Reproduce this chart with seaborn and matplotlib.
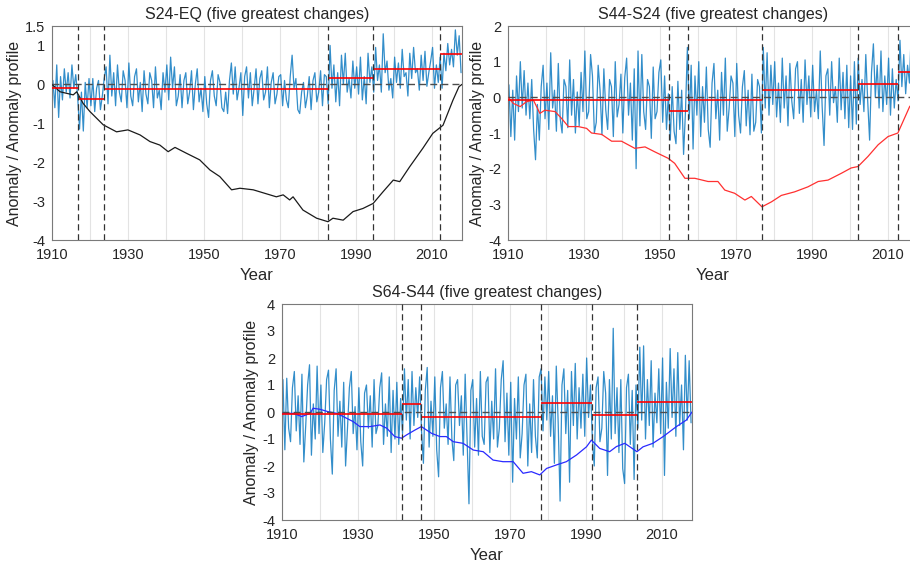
import numpy as np
import pandas as pd
import matplotlib
matplotlib.use("Agg")
import matplotlib.pyplot as plt
import seaborn as sns

# ---------------- data ----------------
titles = ["S24-EQ (five greatest changes)",
          "S44-S24 (five greatest changes)",
          "S64-S44 (five greatest changes)"]
x_ticklabel_years = [1910, 1930, 1950, 1970, 1990, 2010]

# semi-annual anomaly values, 1910..2017 (two per year)
anom_s24_eq = [
    0.1, -0.6, 0.5, -0.85, 0.2, -0.4, 0.4, -0.2, 0.3, -0.35,
    0.5, -0.1, 0.25, -0.3, -1.15, -0.2, -1.2, 0.05, -0.6, 0.15,
    -0.55, 0.15, -0.7, -0.1, 0.1, -0.65, -0.3, 0.15, 0.45, -0.5,
    0.75, -0.3, 0.3, -0.55, 0.5, -0.2, -0.45, 0.35, 0.1, -0.6,
    0.55, -0.3, -0.55, 0.2, 0.4, -0.45, 0.05, -0.7, 0.35, -0.25,
    -0.5, 0.3, 0.1, -0.6, 0.45, -0.35, -0.15, -0.65, 0.3, -0.2,
    0.5, -0.4, 0.7, -0.1, 0.45, -0.55, -0.3, 0.25, -0.6, 0.1,
    0.3, -0.5, -0.2, 0.35, -0.65, 0.0, 0.4, -0.45, -0.1, -0.7,
    0.2, -0.5, -0.85, 0.1, 0.35, -0.3, -0.55, 0.25, 0.05, -0.6,
    -0.7, -0.2, -0.75, 0.1, 0.55, -0.25, 0.45, -0.4, -0.1, 0.3,
    -0.8, 0.2, 0.45, -0.35, 0.3, -0.55, -0.1, 0.4, -0.5, 0.15,
    0.35, -0.4, -0.2, 0.45, -0.6, 0.05, 0.3, -0.5, -0.25, 0.2,
    0.25, -0.55, 0.1, -0.4, -0.6, 0.2, 0.75, -0.1, 0.15, -0.65,
    -0.75, -0.2, 0.05, -0.6, -0.3, 0.2, -0.65, 0.1, 0.3, -0.45,
    -0.2, 0.35, -0.55, 0.25, 0.2, -0.5, 1.0, -0.1, 0.5, -0.45,
    0.3, -0.55, 0.75, 0.0, 0.8, -0.2, 0.15, -0.35, 0.6, -0.1,
    0.45, -0.25, 0.7, -0.4, 0.2, -0.5, 0.8, 0.05, 0.45, -0.2,
    0.95, 0.1, 0.5, -0.2, 1.3, 0.3, 0.6, -0.15, 0.15, -0.35,
    0.7, 0.05, 0.55, -0.1, 0.9, 0.2, 0.3, -0.3, 0.8, 0.15,
    0.95, 0.3, 0.4, -0.15, 0.75, 0.1, 0.85, -0.05, 0.3, 0.6,
    0.95, -0.1, 0.5, 0.05, 0.7, -0.1, 0.8, 0.35, 1.05, 0.5,
    0.9, 0.45, 1.4, 0.75, 1.25, 0.3,
]
anom_s44_s24 = [
    0.35, -1.1, 0.2, -1.2, 0.6, -0.4, 1.0, -0.3, 0.75, -0.5,
    0.4, -0.6, 0.5, -0.9, -1.75, -0.2, -1.2, 0.3, 0.9, -0.6,
    0.4, -0.9, 1.25, -0.3, 0.2, -0.95, 0.95, -0.6, -1.0, 0.5,
    0.3, -0.85, 1.05, -0.5, 0.5, -1.0, 0.15, -0.8, 0.7, -0.4,
    1.3, -0.6, -0.4, 1.2, 0.6, -1.0, -0.7, 0.9, 0.2, -1.05,
    0.8, -0.35, -0.9, 0.5, 0.3, -1.1, 1.0, -0.55, -0.2, 0.65,
    -1.0, 0.55, 1.1, -0.5, 0.4, -1.2, 0.8, -2.0, 1.3, -0.8,
    1.2, -0.4, -0.9, 0.5, 0.3, -1.15, 0.85, -0.6, -0.4, 0.7,
    1.05, -0.7, 0.6, -0.9, 0.1, -1.2, 0.3, -0.95, -1.3, 0.45,
    -0.9, 0.2, -1.6, -0.4, 1.4, -0.6, 0.9, -1.45, 0.6, -0.5,
    1.0, -1.1, 0.3, -0.7, 0.85, -0.9, -1.4, 0.4, 0.95, -0.6,
    0.2, -1.2, 0.7, -0.5, 1.1, -0.95, -0.3, 0.6, 0.4, -1.1,
    0.95, -0.5, -1.0, 0.3, 0.75, -0.8, 0.2, -1.05, 0.65, -0.95,
    -0.7, 0.5, 0.3, -1.0, 1.4, -0.3, 1.25, -0.5, 0.9, -0.2,
    1.0, -0.55, 0.4, -0.7, 1.1, -0.3, 0.6, -0.8, 0.95, -0.1,
    -0.6, 0.8, 1.0, -0.45, 0.5, -0.7, 1.05, -0.2, 0.6, -0.55,
    0.9, -0.4, 0.2, -0.6, 1.3, -0.25, -1.35, 0.6, 0.8, -0.5,
    1.0, -0.15, 0.3, -0.7, 1.1, -0.35, 0.7, -0.6, 0.9, -0.85,
    0.6, -0.9, 1.0, -0.75, 1.1, -0.2, 0.5, -0.4, 1.2, -0.1,
    -1.2, 0.7, 1.5, 0.0, 0.9, -0.3, 1.3, -0.4, 0.6, -0.2,
    1.1, -0.5, 0.8, -0.3, 0.5, -0.1, 1.6, 0.3, 1.2, 0.1,
    0.9, 0.4, 1.95, 0.5, 1.3, 0.2,
]
anom_s64_s44 = [
    1.2, -1.4, 1.25, -0.6, -1.1, 0.9, 1.5, -0.7, 0.6, -1.2,
    1.4, -1.85, -0.5, 1.0, 1.75, -1.6, 0.3, -1.0, 1.7, -0.8,
    1.0, -1.5, -0.4, 1.2, 1.55, -1.0, -2.3, 0.8, 1.6, -0.9,
    0.4, -1.3, 1.1, -2.0, -0.6, 0.9, 1.5, -0.8, 0.2, -1.4,
    0.9, -1.1, -2.0, 0.7, 1.0, -0.6, 0.6, -1.3, 1.2, -0.8,
    -0.5, 0.9, 1.45, -1.2, 0.3, -0.9, 1.3, -1.5, 0.8, -1.0,
    1.1, -1.2, 0.5, -0.8, 1.6, -0.3, 1.2, -1.0, 1.5, -0.5,
    0.9, -0.2, 1.3, -0.7, -1.9, 0.8, 1.65, -1.3, 0.4, -0.9,
    1.3, -1.4, -2.4, 0.9, 1.5, -0.6, 0.3, -1.2, 1.3, -1.0,
    -1.8, 1.0, 1.2, -0.5, 0.6, -1.6, 1.4, -1.0, -3.4, 0.8,
    1.2, -1.3, 0.5, -1.6, 1.5, -0.9, -1.2, 1.1, 1.3, -1.5,
    0.4, -1.0, 1.6, -1.3, -0.6, 1.2, 1.9, -1.1, 0.7, -1.6,
    1.1, -2.6, 0.5, -1.0, 1.3, -1.7, -0.8, 1.0, 1.4, -2.0,
    0.3, -1.5, 1.2, -0.9, -1.7, 1.3, 1.6, -0.7, 1.3, -0.3,
    1.5, -0.9, 0.6, -1.9, 1.7, -0.4, -3.3, 1.0, 1.6, -0.8,
    0.8, -2.6, 1.5, -0.5, 1.8, -1.0, 0.9, -0.6, 1.4, -0.9,
    2.0, -0.2, 1.0, -1.0, -2.0, 0.9, 1.3, -1.1, -0.6, 1.5,
    0.7, -2.35, 1.2, -1.0, 3.1, -0.8, 0.9, -1.5, 1.2, -2.1,
    -2.65, 0.9, 1.4, -1.2, 0.8, -2.5, 1.0, -0.6, 2.4, -0.3,
    2.45, -1.0, 1.2, -0.5, 1.9, -1.3, 0.7, -0.4, 1.6, -0.8,
    2.0, -2.35, 1.1, -0.6, 2.35, -0.2, 1.6, -0.9, 2.2, -0.5,
    1.0, -1.4, 2.1, -0.3, 1.9, -0.4,
]

# anomaly profiles (year, value)
prof1_years = [1910, 1912.1, 1915.6, 1916.5, 1918.2, 1920, 1923.5, 1927, 1930,
               1933.2, 1935.8, 1938.4, 1940.6, 1942.4, 1945.4, 1948.9, 1951.6,
               1954.2, 1957.3, 1959.5, 1963, 1964.7, 1969.1, 1970.9, 1972.6,
               1973.5, 1976.1, 1979.7, 1982.7, 1984, 1986.7, 1989.3, 1991.9,
               1994.6, 1997.2, 1999.9, 2001.6, 2004.2, 2007.7, 2010.3, 2013,
               2015.6, 2017.2, 2018]
prof1_vals = [0.0, -0.19, -0.27, -0.19, -0.49, -0.7, -1.04, -1.22, -1.17,
              -1.3, -1.47, -1.56, -1.73, -1.62, -1.77, -1.94, -2.2,
              -2.37, -2.71, -2.67, -2.71, -2.76, -2.89, -2.84, -2.97,
              -2.89, -3.23, -3.44, -3.53, -3.44, -3.49, -3.27, -3.19,
              -3.06, -2.76, -2.46, -2.5, -2.12, -1.64, -1.26, -1.05,
              -0.41, -0.06, 0.0]
prof2_years = [1910, 1911.4, 1913.2, 1914.9, 1916.7, 1918.4, 1919.7, 1922.4,
               1924.1, 1925.9, 1928.5, 1930.7, 1932, 1934.7, 1937.3, 1939.9,
               1943.4, 1946.1, 1948.7, 1952.2, 1953.9, 1956.6, 1959.2, 1962.7,
               1965.3, 1967.1, 1969.7, 1972.4, 1974.1, 1976.9, 1979.4, 1982,
               1985.5, 1989, 1991.7, 1994.3, 1997.8, 2000.4, 2002.2, 2004.8,
               2007.5, 2010.1, 2012.7, 2015.8, 2018]
prof2_vals = [0.0, -0.17, -0.26, -0.12, -0.08, -0.45, -0.36, -0.4,
              -0.59, -0.82, -0.82, -0.87, -1.0, -1.04, -1.23, -1.23,
              -1.43, -1.39, -1.53, -1.71, -1.85, -2.27, -2.27, -2.36,
              -2.36, -2.6, -2.69, -2.88, -2.78, -3.07, -2.93, -2.75,
              -2.65, -2.51, -2.36, -2.32, -2.13, -1.98, -1.94, -1.66,
              -1.33, -1.1, -1.0, -0.26, 0.0]
prof3_years = [1910, 1913, 1915.2, 1917.4, 1918.2, 1920, 1922.2, 1924.4, 1927,
               1928.8, 1930.5, 1933.2, 1935.8, 1937.6, 1939.7, 1941.5, 1942.8,
               1945, 1946.7, 1948.1, 1949.4, 1951.6, 1953.3, 1955.1, 1957.7,
               1960.4, 1963, 1965.6, 1968.2, 1970.9, 1973.5, 1975.7, 1977.9,
               1979.7, 1982.3, 1984.9, 1987.6, 1990.2, 1991.5, 1993.7, 1996.3,
               1998.1, 2000.3, 2003.5, 2005.1, 2007.7, 2010.4, 2013.9, 2016.5,
               2018]
prof3_vals = [-0.05, -0.05, -0.17, -0.05, 0.14, 0.1, 0.01, -0.05, -0.23,
              -0.36, -0.54, -0.54, -0.48, -0.6, -0.91, -0.97, -0.85,
              -0.67, -0.54, -0.67, -0.79, -0.91, -0.91, -1.1, -1.16,
              -1.41, -1.47, -1.78, -1.84, -1.84, -2.27, -2.21, -2.33,
              -2.09, -1.96, -1.84, -1.59, -1.29, -1.04, -1.35, -1.47,
              -1.28, -1.16, -1.47, -1.29, -1.16, -0.91, -0.54, -0.3,
              0.0]

# change points and segment means
cp1 = [1916.8, 1923.8, 1982.6, 1994.5, 2012.2]
mean1 = [-0.1, -0.37, -0.11, 0.16, 0.39, 0.78]
cp2 = [1952.3, 1957.3, 1977.0, 2002.3, 2012.8]
mean2 = [-0.08, -0.37, -0.08, 0.2, 0.36, 0.71]
cp3 = [1941.6, 1946.7, 1978.1, 1991.6, 2003.5]
mean3 = [-0.09, 0.31, -0.17, 0.35, -0.11, 0.36]

yticks1 = [-4, -3, -2, -1, 0, 1, 1.5]
yticks2 = [-4, -3, -2, -1, 0, 1, 2]
yticks3 = [-4, -3, -2, -1, 0, 1, 2, 3, 4]

# ---------------- style ----------------
sns.set_theme(style="white")
plt.rcParams["font.family"] = ["Liberation Sans", "DejaVu Sans"]
plt.rcParams["axes.unicode_minus"] = False

START, END = 1910, 2018
BLUE = "#0072BD"
TXT = "#262626"

fig = plt.figure(figsize=(9.10, 5.67), dpi=100)
W = 410 / 910
H1 = 214 / 567
H3 = 216 / 567
axes = [
    fig.add_axes([52 / 910, 1 - 240 / 567, W, H1]),
    fig.add_axes([508 / 910, 1 - 240 / 567, W, H1]),
    fig.add_axes([282 / 910, 1 - 520 / 567, W, H3]),
]

panels = [
    (anom_s24_eq, prof1_years, prof1_vals, "#1a1a1a", cp1, mean1, (-4, 1.5), yticks1),
    (anom_s44_s24, prof2_years, prof2_vals, "#ff3030", cp2, mean2, (-4, 2), yticks2),
    (anom_s64_s44, prof3_years, prof3_vals, "#2a2aff", cp3, mean3, (-4, 4), yticks3),
]

for ax, title, (anom, py, pv, pcol, cps, means, ylim, yt) in zip(axes, titles, panels):
    n = len(anom)
    t = START + 0.25 + 0.5 * np.arange(n)
    df = pd.DataFrame({"year": t, "anom": anom})
    sns.lineplot(data=df, x="year", y="anom", ax=ax, color=BLUE, lw=0.9,
                 alpha=0.8, zorder=2, estimator=None)
    dfp = pd.DataFrame({"year": py, "prof": pv})
    sns.lineplot(data=dfp, x="year", y="prof", ax=ax, color=pcol, lw=0.9,
                 zorder=3, estimator=None)
    ax.axhline(0, color="#4d4d4d", lw=1.0, ls=(0, (5, 3)), zorder=4)
    edges = [START] + cps + [END]
    ax.hlines(means, edges[:-1], edges[1:], color="#ff0000", lw=1.2, zorder=5)
    for c in cps:
        ax.axvline(c, color="#333333", lw=0.9, ls=(0, (5, 3)), zorder=6)

    ax.set_xlim(START, END)
    ax.set_ylim(*ylim)
    xt = list(range(1910, 2019, 10))
    ax.set_xticks(xt)
    ax.set_xticklabels([str(v) if v in x_ticklabel_years else "" for v in xt])
    ax.set_yticks(yt)
    ax.set_yticklabels(["%g" % v for v in yt])
    ax.grid(axis="x", color="#e3e3e3", lw=0.8, zorder=0)
    ax.grid(axis="y", visible=False)
    ax.set_axisbelow(True)
    ax.tick_params(direction="in", length=3, width=0.7, colors="#555555",
                   labelcolor=TXT, labelsize=10.5)
    ax.tick_params(axis="x", pad=6)
    ax.tick_params(axis="y", pad=5)
    for s in ax.spines.values():
        s.set_color("#7a7a7a")
        s.set_linewidth(0.8)
    ax.set_title(title, fontsize=11.5, color=TXT, pad=5)
    ax.set_xlabel("Year", fontsize=12, color=TXT, labelpad=4)
    ax.set_ylabel("Anomaly / Anomaly profile", fontsize=11.5, color=TXT, labelpad=2)

fig.savefig("out.png", dpi=100)
